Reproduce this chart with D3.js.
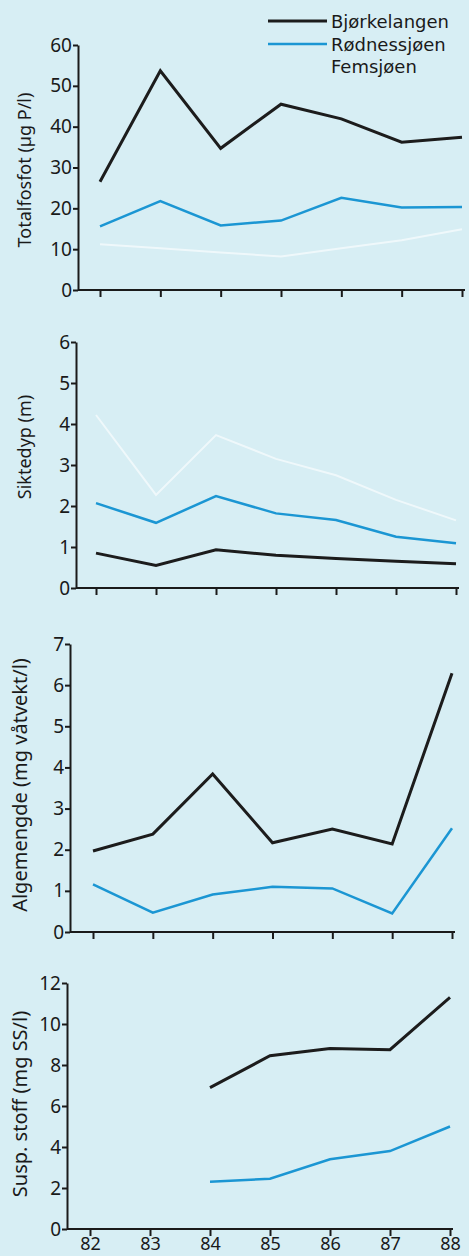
<!DOCTYPE html>
<html>
<head>
<meta charset="utf-8">
<script src="https://cdn.jsdelivr.net/npm/d3@7"></script>
<style>
  html, body { margin: 0; padding: 0; background: #d7eef4; }
  svg { display: block; }
  text { font-family: "Noto Sans", sans-serif; fill: #1a1a1a; }
</style>
</head>
<body>
<script>
// years on the x axis (19xx)
var years = ["82", "83", "84", "85", "86", "87", "88"];

// legend names
var lakes = ["Bjørkelangen", "Rødnessjøen", "Femsjøen"];

// Totalfosfor (µg P/l)
var fosforBjorkelangen = [26.5, 53.7, 34.7, 45.5, 41.9, 36.2, 37.4];
var fosforRodnessjoen  = [15.6, 21.8, 15.8, 17.0, 22.6, 20.2, 20.3];
var fosforFemsjoen     = [11.2, 10.2, 9.2, 8.2, 10.2, 12.2, 14.9];

// Siktedyp (m)
var siktBjorkelangen = [0.85, 0.55, 0.93, 0.80, 0.72, 0.65, 0.59];
var siktRodnessjoen  = [2.07, 1.59, 2.24, 1.82, 1.66, 1.25, 1.09];
var siktFemsjoen     = [4.22, 2.27, 3.73, 3.15, 2.75, 2.15, 1.65];

// Algemengde (mg våtvekt/l)
var algeBjorkelangen = [1.97, 2.38, 3.84, 2.17, 2.50, 2.14, 6.29];
var algeRodnessjoen  = [1.16, 0.47, 0.91, 1.10, 1.06, 0.45, 2.52];

// Susp. stoff (mg SS/l), no data before 84
var suspBjorkelangen = [null, null, 6.9, 8.45, 8.8, 8.75, 11.3];
var suspRodnessjoen  = [null, null, 2.3, 2.45, 3.4, 3.8, 5.0];

// y axis ranges and titles
var yMaxes = [60, 6, 7, 12];
var yTickSteps = [10, 1, 1, 2];
var yTitles = ["Totalfosfot (µg P/l)", "Siktedyp (m)", "Algemengde (mg våtvekt/l)", "Susp. stoff (mg SS/l)"];

var colors = ["#1c1c1c", "#1b96d3", "#ffffff"];

// panel placement (pixels), the scan drifts slightly to the left going down
var layout = [
    { axisX: 78, top: 45,  bottom: 290,  x0: 100, x1: 462, titleX: 25, titleY: 170,  titleSize: 18 },
    { axisX: 76, top: 342, bottom: 588,  x0: 96,  x1: 456, titleX: 25, titleY: 447,  titleSize: 18 },
    { axisX: 70, top: 644, bottom: 932,  x0: 93,  x1: 452, titleX: 20, titleY: 785,  titleSize: 20 },
    { axisX: 67, top: 983, bottom: 1229, x0: 90,  x1: 450, titleX: 20, titleY: 1104, titleSize: 20 }
];

var panelSeries = [
    [fosforBjorkelangen, fosforRodnessjoen, fosforFemsjoen],
    [siktBjorkelangen, siktRodnessjoen, siktFemsjoen],
    [algeBjorkelangen, algeRodnessjoen, null],
    [suspBjorkelangen, suspRodnessjoen, null]
];

var svg = d3.select("body").append("svg")
    .attr("width", 469)
    .attr("height", 1256);

panelSeries.forEach(function(series, p) {
    var L = layout[p];

    var xScale = d3.scalePoint().domain(years).range([L.x0, L.x1]);
    var yScale = d3.scaleLinear().domain([0, yMaxes[p]]).range([L.bottom, L.top]);

    var g = svg.append("g");

    // Y axis
    var yAxis = g.append("g")
        .attr("transform", "translate(" + L.axisX + ",0)")
        .call(d3.axisLeft(yScale)
            .tickValues(d3.range(0, yMaxes[p] + 0.001, yTickSteps[p]))
            .tickFormat(d3.format("d"))
            .tickSize(5)
            .tickSizeOuter(0)
            .tickPadding(1));
    yAxis.select(".domain").attr("stroke", "#1a1a1a").attr("stroke-width", 2);
    yAxis.selectAll(".tick line").attr("stroke", "#1a1a1a").attr("stroke-width", 2);
    yAxis.selectAll(".tick text")
        .style("font-family", "'Noto Sans', sans-serif")
        .style("font-size", "19px")
        .attr("fill", "#1a1a1a");

    // X axis: baseline from the y axis, ticks down at each year
    var xAxis = g.append("g")
        .attr("transform", "translate(0," + L.bottom + ")")
        .call(d3.axisBottom(xScale)
            .tickSize(7)
            .tickSizeOuter(0)
            .tickPadding(1));
    xAxis.select(".domain").remove();
    xAxis.selectAll(".tick line").attr("stroke", "#1a1a1a").attr("stroke-width", 2);
    xAxis.selectAll(".tick text")
        .style("font-family", "'Noto Sans', sans-serif")
        .style("font-size", "18px")
        .attr("fill", "#1a1a1a")
        .style("display", p === 3 ? null : "none");
    g.append("line")
        .attr("x1", L.axisX).attr("x2", L.x1 + 3)
        .attr("y1", L.bottom).attr("y2", L.bottom)
        .attr("stroke", "#1a1a1a")
        .attr("stroke-width", 2);

    // Y title
    g.append("text")
        .attr("transform", "translate(" + L.titleX + "," + L.titleY + ") rotate(-90)")
        .attr("dy", "0.35em")
        .style("text-anchor", "middle")
        .style("font-size", L.titleSize + "px")
        .text(yTitles[p]);

    // lines
    var valueline = d3.line()
        .defined(function(d) { return d != null; })
        .x(function(d, i) { return xScale(years[i]); })
        .y(function(d) { return yScale(d); });

    series.forEach(function(values, s) {
        if (!values) return;
        g.append("path")
            .datum(values)
            .attr("fill", "none")
            .attr("stroke", colors[s])
            .attr("stroke-opacity", s === 2 ? 0.6 : 1)
            .attr("stroke-width", s === 0 ? 3 : (s === 1 ? 2.5 : 2))
            .attr("d", valueline);
    });
});

// legend
var legend = svg.append("g");
var legendY = [28, 51, 73];
lakes.forEach(function(name, i) {
    if (i < 2) {
        legend.append("line")
            .attr("x1", 268).attr("x2", 327)
            .attr("y1", legendY[i] - 7).attr("y2", legendY[i] - 7)
            .attr("stroke", colors[i])
            .attr("stroke-width", i === 0 ? 3 : 2.5);
    }
    legend.append("text")
        .attr("x", 331)
        .attr("y", legendY[i])
        .style("font-family", "'DejaVu Sans', sans-serif")
        .style("font-size", "18px")
        .text(name);
});
</script>
</body>
</html>
